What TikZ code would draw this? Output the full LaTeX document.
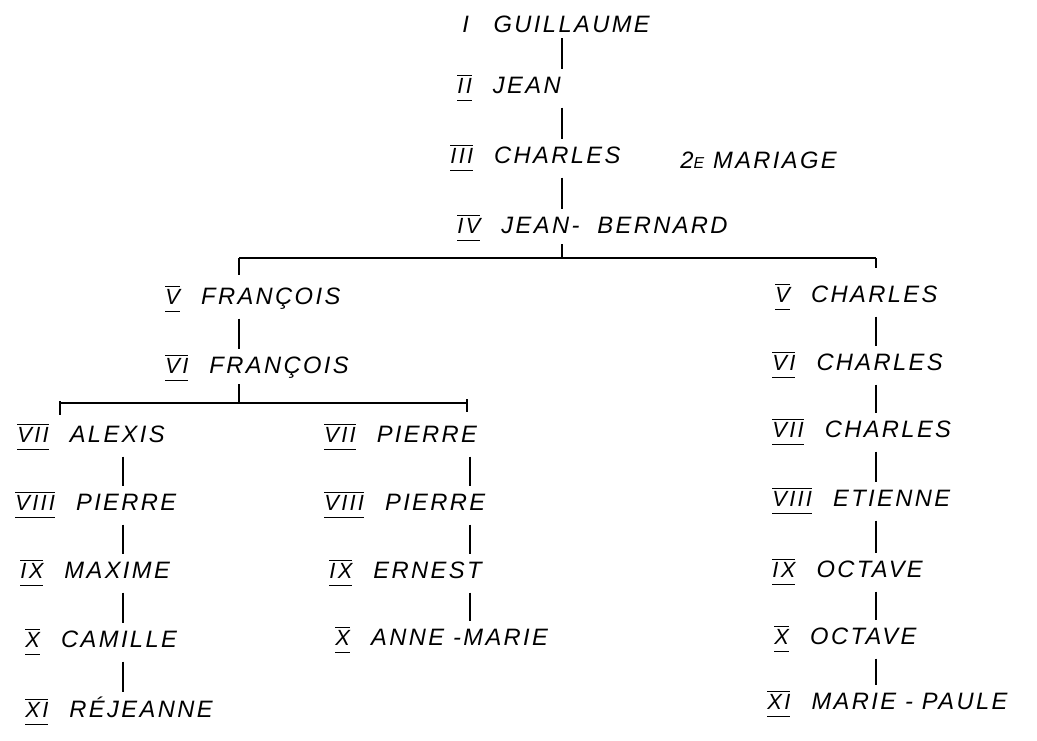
\documentclass[tikz,border=0pt]{standalone}
\usepackage{fontspec}
\setmainfont{Liberation Sans}[LetterSpace=10]
\usetikzlibrary{positioning}
\newcommand{\rnum}[1]{$\overline{\underline{\hbox{\fontsize{12.5}{13}\selectfont\rule[-2.5pt]{0pt}{11.5pt}#1}}}$\hskip 12pt}

\begin{document}
\begin{tikzpicture}[x=0.02cm,y=-0.02cm,line width=0.8pt,
    person/.style={anchor=west,inner sep=1pt,font=\fontsize{13.5}{15}\selectfont\itshape},
    link/.style={shorten <=2pt,shorten >=1.5pt}]
\useasboundingbox (0,0) rectangle (1037,740);
% columns of the tree
\coordinate (colA) at (562,0);
\coordinate (colB) at (239,0);
\coordinate (colC) at (876,0);
\coordinate (colD) at (123,0);
\coordinate (colE) at (470,0);
\coordinate (bar5) at (0,258);
\coordinate (bar7) at (0,403);

% first generations
\node[person] (guillaume) at (460,24) {I\hskip 14pt GUILLAUME};
\node[person] (jean) at (455,88) {\rnum{II}JEAN};
\node[person] (charles3) at (448,158) {\rnum{III}CHARLES};
\node[person] (mariage) at (678,160) {2{\small E} MARIAGE};
\node[person] (jeanb) at (455,228) {\rnum{IV}JEAN-\ \ BERNARD};
\draw[link] (guillaume.south -| colA) -- (jean.north -| colA);
\draw[link] (jean.south -| colA) -- (charles3.north -| colA);
\draw[link] (charles3.south -| colA) -- (jeanb.north -| colA);

% split into two branches
\draw (jeanb.south -| colA) -- (bar5 -| colA);
\draw (bar5 -| colB) -- (bar5 -| colC);
\draw (bar5 -| colB) -- ++(0,17);
\draw (bar5 -| colC) -- ++(0,10);

% left branch
\node[person] (francois5) at (163,299) {\rnum{V}FRANÇOIS};
\node[person] (francois6) at (163,368) {\rnum{VI}FRANÇOIS};
\draw[link] (francois5.south -| colB) -- (francois6.north -| colB);
\draw (francois6.south -| colB) -- (bar7 -| colB);
\draw (bar7 -| 60,0) -- (bar7 -| 467,0);
\draw (bar7 -| 60,0) ++(0,-2) -- ++(0,14);
\draw (bar7 -| 467,0) ++(0,-4) -- ++(0,13);

\node[person] (alexis) at (15,437) {\rnum{VII}ALEXIS};
\node[person] (pierre8) at (13,505) {\rnum{VIII}PIERRE};
\node[person] (maxime) at (18,573) {\rnum{IX}MAXIME};
\node[person] (camille) at (23,642) {\rnum{X}CAMILLE};
\node[person] (rejeanne) at (23,711) {\rnum{XI}RÉJEANNE};
\draw[link] (alexis.south -| colD) -- (pierre8.north -| colD);
\draw[link] (pierre8.south -| colD) -- (maxime.north -| colD);
\draw[link] (maxime.south -| colD) -- (camille.north -| colD);
\draw[link] (camille.south -| colD) -- (rejeanne.north -| colD);

\node[person] (pierre7) at (322,437) {\rnum{VII}PIERRE};
\node[person] (pierre8b) at (322,505) {\rnum{VIII}PIERRE};
\node[person] (ernest) at (327,573) {\rnum{IX}ERNEST};
\node[person] (annemarie) at (333,640) {\rnum{X}ANNE\ -MARIE};
\draw[link] (pierre7.south -| colE) -- (pierre8b.north -| colE);
\draw[link] (pierre8b.south -| colE) -- (ernest.north -| colE);
\draw[link] (ernest.south -| colE) -- (annemarie.north -| colE);

% right branch
\node[person] (charles5) at (773,297) {\rnum{V}CHARLES};
\node[person] (charles6) at (770,365) {\rnum{VI}CHARLES};
\node[person] (charles7) at (770,432) {\rnum{VII}CHARLES};
\node[person] (etienne) at (770,501) {\rnum{VIII}ETIENNE};
\node[person] (octave9) at (770,572) {\rnum{IX}OCTAVE};
\node[person] (octave10) at (772,639) {\rnum{X}OCTAVE};
\node[person] (mariepaule) at (765,704) {\rnum{XI}MARIE\ -\ PAULE};
\draw[link] (charles5.south -| colC) -- (charles6.north -| colC);
\draw[link] (charles6.south -| colC) -- (charles7.north -| colC);
\draw[link] (charles7.south -| colC) -- (etienne.north -| colC);
\draw[link] (etienne.south -| colC) -- (octave9.north -| colC);
\draw[link] (octave9.south -| colC) -- (octave10.north -| colC);
\draw[link] (octave10.south -| colC) -- (mariepaule.north -| colC);
\end{tikzpicture}
\end{document}
